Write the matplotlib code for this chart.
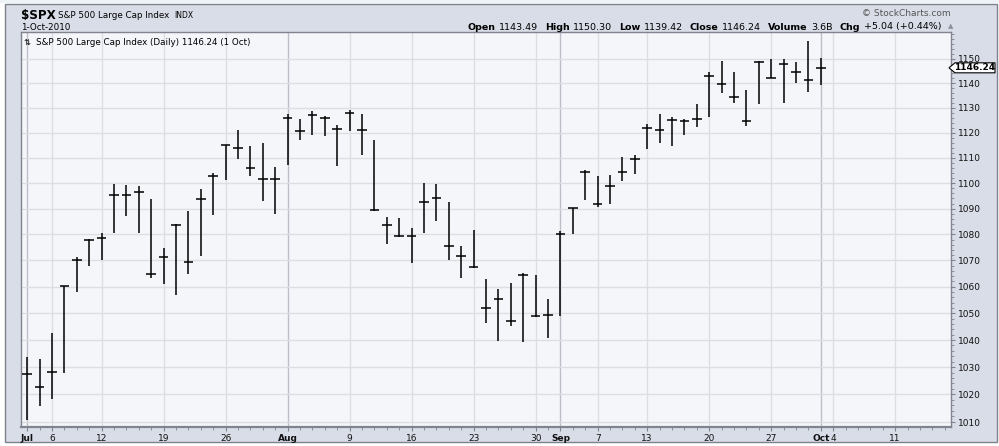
import matplotlib
matplotlib.use("Agg")
import matplotlib.pyplot as plt
import pandas as pd
from matplotlib.patches import Rectangle, Polygon
from matplotlib.ticker import FixedLocator, FixedFormatter, MultipleLocator, NullFormatter

plt.rcParams['font.family'] = ['DejaVu Sans']

# trading days Jul 1 - Oct 1 2010 (Jul 5 and Sep 6 were holidays)
days = pd.bdate_range("2010-07-01", "2010-10-01").drop(pd.to_datetime(["2010-07-05", "2010-09-06"]))
future = pd.bdate_range("2010-10-04", "2010-10-15")

highs = [1033.6, 1032.9, 1042.5, 1060.3, 1071.2, 1078.2, 1080.5, 1099.5, 1099.1, 1098.8,
         1093.6, 1074.7, 1083.9, 1088.9, 1097.6, 1103.8, 1115.1, 1120.9, 1114.7, 1115.7,
         1106.2, 1127.3, 1125.4, 1128.8, 1126.6, 1122.9, 1129.2, 1127.3, 1117.2, 1086.7,
         1086.3, 1082.6, 1100.1, 1099.8, 1092.5, 1075.6, 1081.6, 1063.0, 1059.3, 1061.5,
         1065.2, 1064.5, 1055.2, 1081.3, 1090.2, 1105.1, 1102.6, 1103.3, 1110.3, 1110.9,
         1123.5, 1127.4, 1126.1, 1125.4, 1131.5, 1144.4, 1148.9, 1144.4, 1137.0, 1148.9,
         1150.0, 1149.9, 1148.6, 1157.2, 1150.3]
lows = [1010.9, 1015.9, 1018.4, 1028.0, 1058.0, 1067.8, 1070.0, 1080.4, 1087.2, 1080.4,
        1063.2, 1060.9, 1056.9, 1065.0, 1071.7, 1087.7, 1101.1, 1109.5, 1102.9, 1092.8,
        1087.8, 1107.3, 1117.0, 1119.2, 1118.8, 1106.7, 1120.8, 1111.2, 1088.9, 1076.4,
        1079.0, 1069.2, 1080.7, 1085.3, 1070.2, 1063.5, 1067.1, 1046.2, 1039.7, 1045.1,
        1039.3, 1048.6, 1040.9, 1049.0, 1080.0, 1093.3, 1090.8, 1092.0, 1101.0, 1103.7,
        1113.3, 1115.7, 1114.6, 1118.9, 1122.4, 1126.4, 1136.0, 1131.8, 1122.8, 1131.7,
        1142.0, 1132.1, 1140.0, 1136.2, 1139.4]
closes = [1027.37, 1022.58, 1028.06, 1060.27, 1070.25, 1077.96, 1078.75, 1095.34, 1095.17, 1096.48,
          1064.88, 1071.25, 1083.48, 1069.59, 1093.67, 1102.66, 1115.01, 1113.84, 1106.13, 1101.53,
          1101.60, 1125.86, 1120.46, 1127.24, 1125.81, 1121.64, 1127.79, 1121.06, 1089.47, 1083.61,
          1079.25, 1079.38, 1092.54, 1094.16, 1075.63, 1071.69, 1067.36, 1051.87, 1055.33, 1047.22,
          1064.59, 1048.92, 1049.33, 1080.29, 1090.10, 1104.51, 1091.84, 1098.87, 1104.18, 1109.55,
          1121.90, 1121.10, 1125.07, 1124.66, 1125.59, 1142.71, 1139.78, 1134.28, 1124.83, 1148.67,
          1142.16, 1147.70, 1144.73, 1141.20, 1146.24]
yticks = list(range(1010, 1151, 10))

W, H = 999, 446
fig = plt.figure(figsize=(W / 100, H / 100), dpi=100, facecolor='white')
fig.patches.append(Rectangle((5 / W, 1 - 442 / H), 992 / W, 438 / H, transform=fig.transFigure,
                             facecolor='#d9dde7', edgecolor='#7d828d', lw=1, zorder=-5))
fig.patches.append(Rectangle((0, 1 - 3 / H), 1, 3 / H, transform=fig.transFigure,
                             facecolor='#eef3f8', edgecolor='none', zorder=-4))

ax = fig.add_axes([21 / W, 1 - 427 / H, 930 / W, 395 / H])
ax.set_facecolor('#f5f6fa')

alldays = list(days) + list(future)
x = list(range(len(days)))

# week / month grid and labels
tick_pos, tick_lab, bold = [], [], []
for i, d in enumerate(alldays):
    prev = alldays[i - 1] if i > 0 else None
    new_month = prev is None or d.month != prev.month
    new_week = prev is not None and d.weekday() < prev.weekday()
    if new_month:
        ax.axvline(i, color='#bcbfc8', lw=1, zorder=0)
        tick_pos.append(i); tick_lab.append(d.strftime('%b')); bold.append(True)
    elif new_week:
        ax.axvline(i, color='#dcdee4', lw=1, zorder=0)
        tick_pos.append(i); tick_lab.append(str(d.day)); bold.append(False)

for v in yticks:
    ax.axhline(v, color='#dcdee4', lw=1, zorder=0)

ax.vlines(x, lows, highs, color='black', lw=1.1, zorder=3)
ax.hlines(closes, [i - 0.38 for i in x], [i + 0.38 for i in x], color='black', lw=1.1, zorder=3)

ax.set_yscale('log')
ax.set_ylim(1008.2, 1161)
ax.set_xlim(-0.5, len(alldays) - 0.5)
ax.yaxis.tick_right()
ax.yaxis.set_major_locator(FixedLocator(yticks))
ax.yaxis.set_major_formatter(FixedFormatter([str(v) for v in yticks]))
ax.yaxis.set_minor_locator(MultipleLocator(2))
ax.yaxis.set_minor_formatter(NullFormatter())
ax.xaxis.set_major_locator(FixedLocator(tick_pos))
ax.xaxis.set_major_formatter(FixedFormatter(tick_lab))
ax.xaxis.set_minor_locator(MultipleLocator(1))
ax.tick_params(axis='both', which='major', labelsize=6.5, length=3, color='#80848f', pad=2, labelcolor='#111111')
ax.tick_params(axis='both', which='minor', length=2, color='#80848f')
for t, b in zip(ax.get_xticklabels(), bold):
    if b:
        t.set_fontweight('bold')
for s in ax.spines.values():
    s.set_color('#80848f')
    s.set_linewidth(1)
ax.spines['bottom'].set_linewidth(1.6)

# header
fig.text(21 / W, 1 - 15 / H, '$SPX', fontsize=8.6, fontweight='bold', va='center', parse_math=False)
fig.text(58 / W, 1 - 15 / H, 'S&P 500 Large Cap Index', fontsize=6.3, va='center')
fig.text(174 / W, 1 - 15 / H, 'INDX', fontsize=5.5, va='center')
fig.text(21 / W, 1 - 27 / H, '1-Oct-2010', fontsize=6.3, va='center')
fig.text(951 / W, 1 - 14 / H, '\u00a9 StockCharts.com', fontsize=6.5, va='center', ha='right', color='#555555')

parts = [('Open', 'bold'), ('1143.49', 'normal'), ('High', 'bold'), ('1150.30', 'normal'),
         ('Low', 'bold'), ('1139.42', 'normal'), ('Close', 'bold'), ('1146.24', 'normal'),
         ('Volume', 'bold'), ('3.6B', 'normal'), ('Chg', 'bold'), ('+5.04 (+0.44%)', 'normal')]
r = fig.canvas.get_renderer()
px = 467
for k, (s, w) in enumerate(parts):
    t = fig.text(px / W, 1 - 27 / H, s, fontsize=6.8, fontweight=w, va='center')
    px += t.get_window_extent(renderer=r).width + (3.5 if w == 'bold' else 7)
fig.text(px / W, 1 - 26.5 / H, '\u25b2', fontsize=5, va='center', color='#8a8f99')

ax.text(0.003, 0.985, '\u21c5', transform=ax.transAxes, fontsize=6, va='top')
ax.text(0.016, 0.985, 'S&P 500 Large Cap Index (Daily) 1146.24 (1 Oct)', transform=ax.transAxes,
        fontsize=6.3, va='top')

# last price tag
py = ax.transData.transform((0, closes[-1]))[1]
pts = [(949, py), (955, py + 5), (995, py + 5), (995, py - 5), (955, py - 5)]
fig.patches.append(Polygon([(a / W, b / H) for a, b in pts], closed=True, transform=fig.transFigure,
                           facecolor='white', edgecolor='black', lw=0.8, zorder=5))
fig.text(975 / W, py / H, '%.2f' % closes[-1], fontsize=6.5, fontweight='bold', ha='center', va='center', zorder=6)

fig.savefig('out.png', dpi=100)
